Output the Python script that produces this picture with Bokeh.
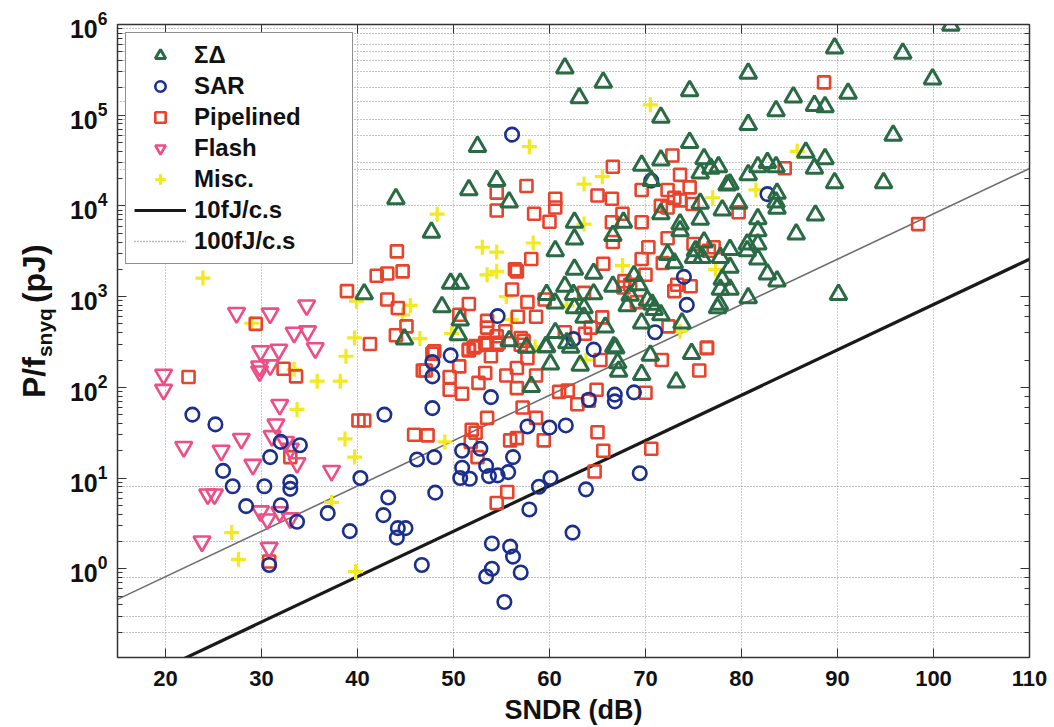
import numpy as np
from bokeh.plotting import figure
from bokeh.layouts import row
from bokeh.core.properties import value
from bokeh.models import (Legend, LegendItem, LogAxis, LinearAxis, FixedTicker, Range1d,
                          CustomJSTickFormatter, LogTicker)
from bokeh.embed import file_html
from bokeh.resources import INLINE

# ---------------- data ----------------
sd_sndr = [44.0, 40.7, 44.9, 61.6, 65.6, 63.1, 74.6, 71.6, 74.6, 52.5, 51.6, 54.5, 55.8, 47.7,
           69.6, 71.6, 70.6, 76.1, 75.7, 76.8, 77.6, 78.5, 75.7, 75.7, 78.0, 71.6, 73.6, 73.6,
           62.6, 62.6, 66.6, 67.7, 60.6, 62.6, 64.6, 49.7, 50.7, 48.8, 50.7, 50.5, 59.7, 60.6,
           61.6, 62.5, 64.6, 62.6, 63.6, 63.6, 66.6, 68.8, 69.3, 68.4, 68.1, 70.2, 70.7, 70.9,
           71.6, 72.3, 73.0, 75.0, 75.9, 75.2, 76.1, 77.8, 78.0, 77.8, 77.7, 77.5, 69.6, 73.8,
           65.8, 66.7, 59.6, 60.6, 61.8, 55.8, 57.6, 59.7, 62.2, 66.9, 60.1, 63.2, 58.1, 67.1,
           67.2, 69.6, 70.5, 73.2, 74.8, 101.8, 89.7, 96.8, 80.7, 99.9, 91.1, 85.4, 87.6, 88.7,
           83.6, 80.7, 95.8, 86.7, 88.7, 87.6, 89.7, 94.8, 82.7, 81.7, 83.6, 80.7, 78.8, 83.7,
           83.6, 83.7, 79.7, 87.7, 81.7, 81.7, 81.7, 80.6, 80.6, 78.8, 81.7, 85.7, 82.7, 83.7,
           78.8, 78.8, 80.7, 90.1]
sd_pj = [1.2e4, 1.07e3, 340, 3.3e5, 2.3e5, 1.55e5, 1.86e5, 9.5e4, 5e4, 4.5e4, 1.5e4, 1.9e4, 1.1e4, 5.1e3,
         2.8e4, 3.2e4, 1.9e4, 3.3e4, 2.3e4, 2.6e4, 2.7e4, 1.7e4, 1.07e4, 7.1e3, 9e3, 8.2e3, 6.3e3, 5.3e3,
         6.6e3, 4.3e3, 4.7e3, 6.6e3, 3.2e3, 2e3, 1.8e3, 1.4e3, 1.4e3, 770, 550, 380, 1.05e3, 850,
         1.3e3, 1.05e3, 1.07e3, 750, 750, 590, 1.3e3, 1.7e3, 1.35e3, 1.03e3, 790, 910, 820, 720,
         630, 2.9e3, 2.35e3, 2.7e3, 2.7e3, 3.2e3, 4e3, 2.7e3, 1.55e3, 1.2e3, 820, 750, 510, 510,
         460, 280, 280, 400, 310, 325, 275, 280, 275, 270, 180, 175, 102, 186,
         150, 138, 225, 114, 235, 9.8e5, 5.5e5, 4.8e5, 2.9e5, 2.5e5, 1.74e5, 1.58e5, 1.28e5, 1.24e5,
         1.12e5, 7.9e4, 6e4, 3.9e4, 3.3e4, 2.6e4, 1.8e4, 1.8e4, 3e4, 2.7e4, 2.7e4, 2.2e4, 1.74e4, 1.38e4,
         1.1e4, 9.4e3, 1.07e4, 7.9e3, 7.2e3, 5.3e3, 3.8e3, 3.8e3, 3.2e3, 3.3e3, 2.6e3, 4.9e3, 1.77e3, 1.48e3,
         2.1e3, 1.2e3, 970, 1.05e3]

sar_sndr = [22.8, 25.2, 42.8, 32.0, 34.0, 30.9, 46.2, 26.0, 27.0, 30.3, 33.0, 33.0, 28.4, 32.0,
            33.7, 36.9, 39.2, 40.3, 42.7, 43.2, 44.2, 45.0, 44.1, 46.7, 30.8, 47.8, 47.8, 49.7,
            47.8, 48.0, 48.1, 53.9, 50.9, 52.8, 50.9, 50.7, 51.7, 53.4, 53.7, 54.6, 55.7, 56.2,
            57.7, 60.0, 61.7, 60.1, 58.9, 57.9, 63.8, 62.4, 54.0, 55.9, 56.2, 54.0, 53.4, 57.0,
            55.3, 69.4, 66.8, 66.8, 68.8, 64.1, 64.6, 56.1, 70.6, 54.6, 62.5, 71.0, 74.0, 74.3, 82.7]
sar_pj = [50, 39, 50, 25, 23, 17, 16, 12, 8.1, 8.1, 9, 7.6, 4.9, 5.0,
          3.3, 4.1, 2.6, 10, 3.9, 6.1, 2.8, 2.8, 2.2, 1.1, 1.1, 190, 132, 225,
          59, 17, 6.9, 78, 20, 21, 13, 10, 9.8, 13.6, 10.5, 10.7, 11.6, 17,
          37, 36, 38, 10, 8, 4.5, 7.5, 2.5, 1.9, 1.75, 1.36, 1.0, 0.82, 0.91,
          0.43, 11.3, 83, 70, 88, 73, 260, 6.1e4, 1.9e4, 610, 340, 405, 1650, 810, 1.35e4]

pipe_sndr = [22.4, 29.4, 32.3, 33.6, 38.9, 42.0, 43.1, 44.1, 44.7, 43.1, 44.2, 45.1, 44.0, 41.3,
             46.8, 40.1, 40.7, 45.9, 33.0, 30.8, 54.5, 54.5, 57.6, 58.4, 60.6, 60.6, 60.0, 65.0,
             66.6, 66.5, 67.6, 66.5, 69.6, 69.6, 72.8, 73.6, 74.6, 72.3, 73.0, 73.6, 71.6, 72.3,
             74.9, 66.6, 72.3, 70.3, 75.0, 76.6, 77.1, 58.1, 56.4, 56.6, 65.6, 69.6, 70.0, 71.8,
             56.1, 51.6, 50.6, 57.7, 59.5, 63.6, 67.8, 68.4, 67.7, 69.1, 56.7, 58.6, 65.5, 53.5,
             53.5, 54.5, 55.4, 53.3, 52.3, 51.6, 54.7, 57.0, 57.3, 61.6, 63.7, 64.3, 72.4, 74.7,
             73.3, 73.0, 76.4, 48.0, 47.8, 47.1, 51.6, 52.1, 53.5, 54.5, 53.9, 50.6, 49.6, 49.6,
             50.9, 52.6, 53.3, 55.5, 56.6, 56.6, 58.6, 57.7, 57.0, 65.3, 61.0, 61.9, 62.9, 64.1,
             64.9, 70.0, 71.7, 75.6, 76.4, 57.2, 58.6, 53.5, 51.9, 52.3, 51.8, 52.5, 55.9, 56.6,
             59.4, 47.3, 65.0, 65.6, 64.7, 55.6, 54.5, 70.6, 88.6, 84.5, 79.7, 98.4]
pipe_pj = [130, 500, 160, 132, 1150, 1700, 1800, 3150, 1900, 930, 750, 470, 375, 300,
           153, 43, 43, 30, 17, 1.2, 1.4e4, 8.9e3, 1.66e4, 8.2e3, 1.2e4, 9.6e3, 6.7e3, 1.3e4,
           2.7e4, 1.2e4, 8.2e3, 6.6e3, 6.6e3, 1.5e4, 3.6e4, 2.2e4, 1.6e4, 1.5e4, 1.23e4, 1.15e4, 1e4, 9.6e3,
           1.05e4, 4e3, 4.4e3, 3.5e3, 3.8e3, 3.2e3, 3.5e3, 2.6e3, 2e3, 1.9e3, 2.3e3, 2.6e3, 1.74e3, 2.35e3,
           1.2e3, 830, 630, 870, 930, 1.1e3, 1.48e3, 1.35e3, 1.26e3, 870, 600, 600, 590, 540,
           455, 365, 415, 310, 285, 260, 310, 350, 325, 405, 390, 455, 470, 1.3e3,
           1.35e3, 1.15e3, 275, 250, 235, 153, 255, 275, 295, 295, 220, 170, 130, 94,
           85, 112, 144, 135, 163, 98, 135, 210, 295, 200, 89, 92, 65, 71,
           94, 87, 200, 153, 270, 60, 46, 46, 34, 31.5, 25, 17, 26, 27.5,
           26, 29.5, 32, 20, 11.8, 7, 5.3, 21, 2.3e5, 2.6e4, 8.5e3, 6.3e3]

flash_sndr = [19.8, 19.8, 21.9, 25.8, 27.4, 30.9, 34.7, 33.4, 34.8, 35.6, 29.9, 31.8, 29.8, 29.8,
              30.9, 31.9, 31.5, 31.1, 27.9, 32.5, 33.0, 29.1, 33.7, 37.3, 24.4, 25.1, 29.9, 30.6,
              31.9, 33.0, 23.8, 30.8]
flash_pj = [138, 94, 22, 20, 660, 650, 800, 400, 415, 270, 250, 260, 170, 150,
            175, 64, 39, 29, 27, 25, 21, 14, 14.6, 12, 6.6, 6.6, 4.3, 3.5,
            4.2, 3.6, 2.0, 1.7]

misc_sndr = [23.9, 39.9, 45.5, 44.7, 39.7, 46.5, 38.8, 35.8, 38.2, 33.4, 33.7, 38.7, 39.7, 29.0,
             37.3, 26.9, 27.6, 39.8, 70.5, 57.9, 65.5, 63.6, 48.3, 77.0, 63.6, 58.3, 53.0, 54.5,
             53.5, 54.5, 67.6, 55.5, 49.8, 56.0, 77.3, 58.5, 73.6, 61.8, 49.1, 63.8, 85.8, 81.5]
misc_pj = [1600, 890, 800, 630, 350, 345, 220, 117, 117, 158, 57, 27, 17, 510,
           5.4, 2.5, 1.27, 0.93, 1.3e5, 4.5e4, 2.1e4, 1.74e4, 8.1e3, 1.23e4, 6.3e3, 3.9e3, 3.5e3, 3.1e3,
           1.74e3, 1.9e3, 2.2e3, 1000, 390, 560, 2000, 280, 415, 790, 25, 200, 4e4, 1.5e4]

fom_fj = [10, 100]               # Walden FoM lines, fJ/conversion-step
fom_labels = ["10fJ/c.s", "100fJ/c.s"]
x_span = [15, 110]
y_span = [0.105, 1e6]
x_ticks = [20, 30, 40, 50, 60, 70, 80, 90, 100, 110]
y_grid_vals = [0.2, 0.3, 0.8, 2, 8, 1e4, 2.5e4, 3e4, 6e4, 9e4, 1.4e5, 2e5, 3e5, 4e5, 5e5, 6e5, 8e5, 9e5]
ylabel_parts = ["P/f", "snyq", "(pJ)"]

FONT = "Liberation Sans"
LABEL_W = 62

p = figure(width=1054 - LABEL_W, height=727, y_axis_type="log",
           x_range=Range1d(*x_span), y_range=Range1d(*y_span),
           output_backend="svg", toolbar_location=None,
           min_border_left=117 - LABEL_W, min_border_right=25, min_border_top=24,
           min_border_bottom=70)
p.background_fill_color = "white"
p.border_fill_color = "white"
p.outline_line_color = "#333333"
p.outline_line_width = 1.5

# grids
p.xgrid.ticker = FixedTicker(ticks=x_ticks)
p.xgrid.grid_line_color = "#9a9a9a"
p.xgrid.grid_line_dash = "1 2"
p.xgrid.grid_line_width = 1
p.ygrid.ticker = FixedTicker(ticks=y_grid_vals)
p.ygrid.grid_line_color = "#8a8a8a"
p.ygrid.grid_line_dash = "1 2"
p.ygrid.grid_line_width = 1

# axes
p.xaxis.ticker = FixedTicker(ticks=x_ticks)
for ax in (p.xaxis[0], p.yaxis[0]):
    ax.major_label_text_font = FONT
    ax.major_label_text_font_style = "bold"
    ax.major_label_text_color = "#111111"
    ax.axis_line_color = "#333333"
    ax.major_tick_line_color = "#333333"
    ax.minor_tick_line_color = "#333333"
    ax.major_tick_in = 9
    ax.major_tick_out = 0
    ax.minor_tick_in = 5
    ax.minor_tick_out = 0
p.xaxis.minor_tick_line_color = None
p.xaxis.major_label_text_font_size = "22px"
p.xaxis.major_label_standoff = 13
p.yaxis.major_label_text_font_size = "25px"
p.yaxis.major_label_standoff = 10
p.xaxis.axis_label = "SNDR (dB)"
p.xaxis.axis_label_text_font = FONT
p.xaxis.axis_label_text_font_style = "bold"
p.xaxis.axis_label_text_font_size = "27px"
p.xaxis.axis_label_text_color = "#111111"
p.xaxis.axis_label_standoff = 6

blank = CustomJSTickFormatter(code="return ''")
right = LogAxis(ticker=LogTicker(), formatter=blank, major_tick_in=9, major_tick_out=0,
                minor_tick_in=5, minor_tick_out=0, axis_line_color="#333333",
                major_tick_line_color="#333333", minor_tick_line_color="#333333",
                major_label_standoff=0)
p.add_layout(right, "right")
top = LinearAxis(ticker=FixedTicker(ticks=x_ticks), formatter=blank,
                 major_tick_in=9, major_tick_out=0, minor_tick_line_color=None,
                 axis_line_color="#333333", major_tick_line_color="#333333",
                 major_label_standoff=0)
p.add_layout(top, "above")

# FoM lines
xs = np.array(x_span, dtype=float)
enob = (xs - 1.76) / 6.02
line_styles = [dict(color="#1a1a1a", width=3.2), dict(color="#6e6e6e", width=1.6)]
fom_renderers = []
for f, st in zip(fom_fj, line_styles):
    r = p.line(xs, f * 1e-3 * 2 ** enob, line_color=st["color"], line_width=st["width"])
    fom_renderers.append(r)

# scatter series
lw = 2.6
r_misc = p.scatter(misc_sndr, misc_pj, marker="cross", size=15, line_color="#f2ea1e",
                   line_width=3.2)
r_pipe = p.scatter(pipe_sndr, pipe_pj, marker="square", size=12, line_color="#e8432c",
                   fill_color=None, line_width=lw)
r_flash = p.scatter(flash_sndr, flash_pj, marker="inverted_triangle", size=17,
                    line_color="#ee4d85", fill_color=None, line_width=lw)
r_sar = p.scatter(sar_sndr, sar_pj, marker="circle", size=13.5, line_color="#1b2f8f",
                  fill_color=None, line_width=lw)
r_sd = p.scatter(sd_sndr, sd_pj, marker="triangle", size=17, line_color="#2a6b45",
                 fill_color=None, line_width=lw + 0.4)

# legend-only dotted sample for the 100 fJ line (placed below the visible range)
leg_dotted = p.line(xs, [1e-9, 1e-9], line_color="#777777", line_width=1.6, line_dash="1 2")

items = [LegendItem(label="ΣΔ", renderers=[r_sd]),
         LegendItem(label="SAR", renderers=[r_sar]),
         LegendItem(label="Pipelined", renderers=[r_pipe]),
         LegendItem(label="Flash", renderers=[r_flash]),
         LegendItem(label="Misc.", renderers=[r_misc]),
         LegendItem(label=fom_labels[0], renderers=[fom_renderers[0]]),
         LegendItem(label=fom_labels[1], renderers=[leg_dotted])]
legend = Legend(items=items, location="top_left", margin=8, padding=8, spacing=3,
                label_height=26, glyph_height=26, glyph_width=52, label_standoff=8,
                label_width=150,
                label_text_font=FONT, label_text_font_style="bold",
                label_text_font_size="24px", label_text_color="#111111",
                border_line_color="#222222", border_line_width=1.5,
                background_fill_color="white", background_fill_alpha=1.0)
p.add_layout(legend)

# ---- narrow side figure holding the rotated y-axis title with its subscript ----
lf = figure(width=LABEL_W, height=727, x_range=Range1d(0, LABEL_W), y_range=Range1d(0, 727),
            output_backend="svg", toolbar_location=None,
            min_border_left=0, min_border_right=0, min_border_top=0, min_border_bottom=0)
lf.axis.visible = False
lf.grid.visible = False
lf.outline_line_color = None
lf.background_fill_color = "white"
lf.border_fill_color = "white"
t_kw = dict(angle=np.pi / 2, text_font=value(FONT), text_font_style="bold",
            text_color="#111111", text_align="left", text_baseline="alphabetic")
lf.text(x=[33], y=[727 - 429], text=[ylabel_parts[0]], text_font_size="32px", **t_kw)
lf.text(x=[44], y=[727 - 382], text=[ylabel_parts[1]], text_font_size="21px", **t_kw)
lf.text(x=[33], y=[727 - 320], text=[ylabel_parts[2]], text_font_size="32px", **t_kw)

layout = row(lf, p, spacing=0)
open("out.html", "w").write(file_html(layout, INLINE))
